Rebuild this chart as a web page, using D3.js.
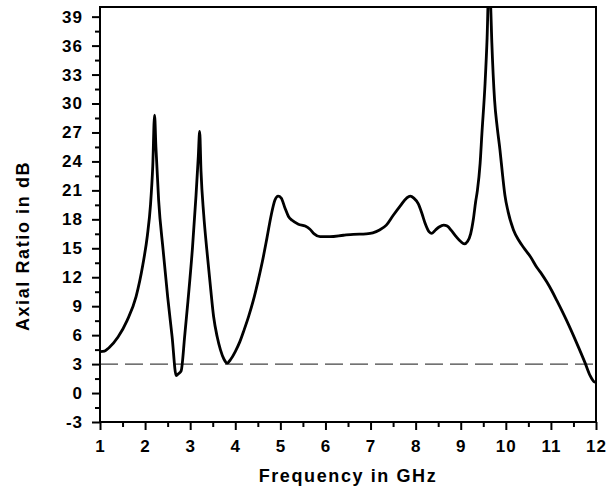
<!DOCTYPE html>
<html><head><meta charset="utf-8">
<script src="https://cdn.jsdelivr.net/npm/d3@7"></script>
<style>
html,body{margin:0;padding:0;background:#fff;}
svg{display:block;}
text{font-family:"Liberation Sans",Arial,sans-serif;font-weight:bold;fill:#000;}
</style></head>
<body>
<svg id="chart" width="610" height="488"></svg>
<script>
// ---- data ----
const freq = [1.0,1.1,1.2,1.4,1.6,1.8,1.95,2.05,2.12,2.17,2.21,2.24,2.30,2.40,2.50,2.60,2.69,2.74,2.80,2.88,2.95,3.05,3.13,3.18,3.21,3.24,3.30,3.37,3.45,3.52,3.60,3.67,3.75,3.82,3.90,4.00,4.10,4.20,4.30,4.40,4.50,4.60,4.70,4.80,4.88,4.95,5.02,5.10,5.18,5.26,5.40,5.55,5.65,5.75,5.88,6.10,6.40,6.62,6.90,7.05,7.20,7.35,7.50,7.66,7.80,7.88,7.96,8.06,8.14,8.21,8.30,8.36,8.44,8.52,8.62,8.70,8.80,8.90,9.00,9.08,9.15,9.22,9.28,9.33,9.37,9.43,9.47,9.54,9.585,9.62,9.66,9.69,9.75,9.81,9.87,9.93,9.98,10.05,10.17,10.29,10.39,10.55,10.69,10.80,10.91,11.02,11.13,11.35,11.57,11.76,11.87,11.95,12.00];
const axialRatio = [4.3,4.35,4.7,5.8,7.5,10.0,13.3,16.3,19.5,23.5,28.8,25.5,20.0,14.8,10.0,5.8,1.8,2.0,2.3,6.0,9.5,15.0,20.5,24.5,27.1,23.0,18.5,14.8,11.0,7.9,5.8,4.5,3.5,3.1,3.5,4.3,5.3,6.6,8.0,9.6,11.5,13.6,16.0,18.5,20.0,20.4,20.2,19.2,18.3,17.9,17.5,17.3,17.0,16.5,16.2,16.2,16.35,16.45,16.5,16.6,16.9,17.4,18.4,19.4,20.2,20.4,20.2,19.6,18.6,17.6,16.7,16.55,16.9,17.2,17.4,17.3,16.8,16.2,15.7,15.45,15.7,16.5,18.0,19.8,21.0,23.8,26.9,32.1,36.8,42.0,40.5,36.3,30.4,27.5,25.2,22.5,20.5,18.8,16.9,15.8,15.1,14.1,13.0,12.3,11.5,10.6,9.6,7.5,5.2,3.1,1.8,1.2,1.1];
const xTicks = [1,2,3,4,5,6,7,8,9,10,11,12];
const yTicks = [-3,0,3,6,9,12,15,18,21,24,27,30,33,36,39];
const refLevel = 3;
const xTitle = "Frequency in GHz";
const yTitle = "Axial Ratio in dB";

// ---- layout ----
const L = 100, R = 596, T = 7, B = 422;
const svg = d3.select("#chart");
const x = d3.scaleLinear().domain([1, 12]).range([L, R]);
const y = d3.scaleLinear().domain([-3, 40]).range([B, T]);

svg.append("defs").append("clipPath").attr("id","clip")
  .append("rect").attr("x",L).attr("y",T).attr("width",R-L).attr("height",B-T);

// reference dashed line
svg.append("line")
  .attr("x1", x(1)).attr("x2", x(12))
  .attr("y1", y(refLevel)).attr("y2", y(refLevel))
  .attr("stroke","#444").attr("stroke-width",1.4)
  .attr("stroke-dasharray","18,7");

// curve
const pts = freq.map((f,i)=>[f, axialRatio[i]]);
const line = d3.line().x(d=>x(d[0])).y(d=>y(d[1])).curve(d3.curveMonotoneX);
svg.append("path").datum(pts)
  .attr("clip-path","url(#clip)")
  .attr("d", line)
  .attr("fill","none").attr("stroke","#000").attr("stroke-width",2.8)
  .attr("stroke-linejoin","round");

// frame
svg.append("rect").attr("x",L).attr("y",T).attr("width",R-L).attr("height",B-T)
  .attr("fill","none").attr("stroke","#000").attr("stroke-width",2);

const fmt = d => String(d);
const tickFont = sel => sel.style("font-size","17px")
  .style("font-family","Liberation Sans, Arial, sans-serif")
  .style("font-weight","bold").style("letter-spacing","1px").attr("fill","#000");

// x axis
const xAxis = d3.axisBottom(x).tickValues(xTicks).tickSize(8).tickPadding(10).tickFormat(fmt);
const gx = svg.append("g").attr("transform",`translate(0,${B})`).call(xAxis);
gx.select(".domain").remove();
gx.selectAll(".tick line").attr("stroke-width",2);
tickFont(gx.selectAll(".tick text"));
const xMinor = d3.axisBottom(x).tickValues(xTicks.slice(0,-1).map(v=>v+0.5)).tickSize(5).tickFormat("");
const gxm = svg.append("g").attr("transform",`translate(0,${B})`).call(xMinor);
gxm.select(".domain").remove();
gxm.selectAll(".tick line").attr("stroke-width",2);

// y axis
const yAxis = d3.axisLeft(y).tickValues(yTicks).tickSize(8).tickPadding(9).tickFormat(fmt);
const gy = svg.append("g").attr("transform",`translate(${L},0)`).call(yAxis);
gy.select(".domain").remove();
gy.selectAll(".tick line").attr("stroke-width",2);
tickFont(gy.selectAll(".tick text"));
const yMinor = d3.axisLeft(y).tickValues(yTicks.map(v=>v+1.5).filter(v=>v<40)).tickSize(5).tickFormat("");
const gym = svg.append("g").attr("transform",`translate(${L},0)`).call(yMinor);
gym.select(".domain").remove();
gym.selectAll(".tick line").attr("stroke-width",2);

// titles
svg.append("text").attr("x",(L+R)/2).attr("y",482).attr("text-anchor","middle")
  .style("font-size","18px").style("letter-spacing","1.6px").text(xTitle);
svg.append("text").attr("transform",`translate(29,${246}) rotate(-90)`).attr("text-anchor","middle")
  .style("font-size","18px").style("letter-spacing","1.6px").text(yTitle);
</script>
</body></html>
